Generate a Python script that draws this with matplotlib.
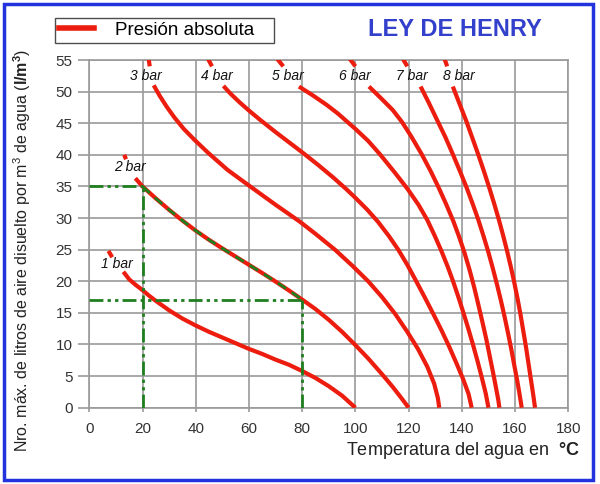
import numpy as np
import matplotlib
matplotlib.use('Agg')
import matplotlib.pyplot as plt
from matplotlib.patches import Rectangle
from matplotlib.lines import Line2D

plt.rcParams['font.family'] = ['Liberation Sans', 'DejaVu Sans']
plt.rcParams['mathtext.fontset'] = 'custom'
plt.rcParams['mathtext.rm'] = 'Liberation Sans'
plt.rcParams['mathtext.it'] = 'Liberation Sans:italic'
plt.rcParams['mathtext.bf'] = 'Liberation Sans:bold'

# curves (temperature degC, litres of air per m3)
# short piece above each label, then the main curve
bar1_top_x = [7.2, 8.6]
bar1_top_y = [24.8, 23.8]
bar1_x = [12.8, 15, 17.5, 20, 22.5, 25, 30, 35, 40, 45, 50, 55, 60, 65, 70, 75, 80, 85, 90, 95, 100]
bar1_y = [21.5, 20.3, 19.4, 18.6, 17.7, 16.9, 15.4, 14.1, 13.0, 12.0, 11.1, 10.2, 9.3, 8.5, 7.6,
          6.8, 5.8, 4.7, 3.4, 1.9, 0]

bar2_top_x = [13.1, 13.8]
bar2_top_y = [40.0, 39.3]
bar2_x = [17.3, 20, 25, 30, 35, 40, 45, 50, 55, 60, 65, 70, 75, 80, 85, 90, 95, 100, 105, 110,
          114, 117.5, 120]
bar2_y = [36.3, 35, 33.1, 31.3, 29.6, 28.0, 26.55, 25.2, 23.9, 22.6, 21.3, 19.95, 18.55, 17.1,
          15.6, 13.9, 12.0, 9.9, 7.7, 5.3, 3.3, 1.4, 0]

bar3_top_x = [22.2, 22.7]
bar3_top_y = [55.5, 54]
bar3_x = [24.2, 26.5, 29.1, 32, 35.5, 39.7, 44.7, 52, 59.8, 70, 79.2, 85, 92.3, 99, 104.8,
          110, 115, 119.5, 123.5, 127, 129.6, 131, 131.5]
bar3_y = [51, 49.3, 47.6, 45.9, 44.1, 42.3, 40.3, 37.6, 35.2, 32.1, 29.4, 27.5, 25, 22.4, 20,
          17.5, 14.8, 12, 9.3, 6.5, 3.8, 1.5, 0]

bar4_top_x = [44.2, 46.1]
bar4_top_y = [55.5, 54]
bar4_x = [50.4, 53, 56.5, 60, 64, 70, 75, 80, 86, 91.7, 96.5, 100, 104.5, 108.5, 112.5, 116.1,
          119.5, 122.6, 126, 129.3, 132.4, 135.3, 138, 140.5, 142.5, 143.7]
bar4_y = [50.9, 49.7, 48.3, 47, 45.6, 43.6, 42.0, 40.4, 38.4, 36.4, 34.6, 33.2, 31.3, 29.4, 27.2,
          25, 22.6, 20.2, 17.5, 14.8, 12.2, 9.6, 7, 4.5, 2.2, 0]

bar5_top_x = [70.0, 72.9]
bar5_top_y = [55.5, 54]
bar5_x = [78.8, 84, 89.2, 93.5, 97, 100, 104.8, 109.2, 114.6, 119.6, 123.7, 127, 129.8, 132.3,
          134.6, 136.7, 138.7, 140.6, 142.5, 144.3, 146, 147.6, 149, 150]
bar5_y = [50.8, 49.4, 47.9, 46.5, 45.2, 44.1, 42.2, 40.1, 37.3, 34.6, 32.1, 29.7, 27.2, 24.8,
          22.4, 20, 17.5, 15, 12.4, 9.8, 7.2, 4.6, 2.2, 0]

bar6_top_x = [97.3, 100]
bar6_top_y = [55.5, 54]
bar6_x = [105.1, 109.5, 114, 117.5, 121, 124.9, 128.3, 131.3, 134.2, 136.8, 139, 141, 142.9,
          144.6, 146.2, 147.7, 149.2, 150.5, 151.8, 152.9, 153.7, 154.1]
bar6_y = [50.8, 49, 47.1, 45.2, 42.9, 40.1, 37.4, 34.8, 32.1, 29.5, 27, 24.5, 21.8,
          19.1, 16.3, 13.6, 10.8, 8.1, 5.4, 3, 1.2, 0]

bar7_top_x = [117.4, 119.5]
bar7_top_y = [55.5, 54]
bar7_x = [124.5, 127.5, 130.7, 133.8, 136.6, 139.3, 141.8, 144.1, 146.2, 148.1, 149.9, 151.6,
          153.2, 154.7, 156.1, 157.4, 158.6, 159.7, 160.8, 161.7, 162.5]
bar7_y = [50.8, 48.3, 45.5, 42.8, 40.1, 37.4, 34.8, 32.2, 29.7, 27.2, 24.7, 22.1,
          19.5, 16.9, 14.3, 11.7, 9.2, 6.7, 4.3, 2.1, 0]

bar8_top_x = [133.2, 134.5]
bar8_top_y = [55.5, 54]
bar8_x = [136.6, 139.2, 141.7, 144, 146.2, 148.3, 150.3, 152.2, 154, 155.6, 157.1, 158.5,
          159.8, 161, 162.1, 163.1, 164.1, 165, 165.9, 166.8, 167.5]
bar8_y = [50.8, 48, 45.3, 42.6, 40, 37.4, 34.8, 32.2, 29.6, 27.1, 24.6, 22.1,
          19.6, 17.1, 14.6, 12.1, 9.6, 7.1, 4.6, 2.1, 0]

curve_labels = ['1 bar', '2 bar', '3 bar', '4 bar', '5 bar', '6 bar', '7 bar', '8 bar']
label_x = [10.3, 15.3, 21.2, 48.1, 74.7, 99.7, 121.4, 138.9]
label_y = [22.8, 38.1, 52.4, 52.4, 52.4, 52.4, 52.4, 52.4]

# worked example: 2 bar, 20 degC -> 35 l/m3, heated to 80 degC -> 17 l/m3
example_t = [20, 80]
example_v = [35, 17]

red = '#ec1c0e'
green = '#1f7f1f'
grid_c = '#9a9a9a'

fig = plt.figure(figsize=(6, 4.84), dpi=100)
ax = fig.add_axes([89.3 / 600, 1 - 407.7 / 484, 479 / 600, 347.7 / 484])

tops = [(bar1_top_x, bar1_top_y), (bar2_top_x, bar2_top_y), (bar3_top_x, bar3_top_y),
        (bar4_top_x, bar4_top_y), (bar5_top_x, bar5_top_y), (bar6_top_x, bar6_top_y),
        (bar7_top_x, bar7_top_y), (bar8_top_x, bar8_top_y)]
mains = [(bar1_x, bar1_y), (bar2_x, bar2_y), (bar3_x, bar3_y), (bar4_x, bar4_y),
         (bar5_x, bar5_y), (bar6_x, bar6_y), (bar7_x, bar7_y), (bar8_x, bar8_y)]

for (tx, ty), (mx, my) in zip(tops, mains):
    ax.plot(tx, ty, color=red, lw=3, solid_capstyle='butt', zorder=3)
    ax.plot(mx, my, color=red, lw=3, solid_capstyle='butt', solid_joinstyle='round', zorder=3)

for lab, lx, ly in zip(curve_labels, label_x, label_y):
    ax.text(lx, ly, lab, fontsize=10, style='italic', ha='center', va='center',
            color='#111111', zorder=4)

# green guide lines
dd = (0, (5, 1.5, 1.2, 1.5, 1.2, 1.5))
ax.hlines(example_v, 0, example_t, color=green, lw=2, linestyles=[dd], zorder=5)
ax.vlines(example_t, 0, example_v, color=green, lw=2, linestyles=[dd], zorder=5)
seg_x = [x for x in bar2_x if example_t[0] <= x <= example_t[1]]
seg_y = [y for x, y in zip(bar2_x, bar2_y) if example_t[0] <= x <= example_t[1]]
ax.plot(seg_x, seg_y, color=green, lw=2, linestyle=(0, (3.5, 2.5)), zorder=5)

ax.set_xlim(0, 180)
ax.set_ylim(0, 55)
ax.set_xticks(np.arange(0, 181, 20))
ax.set_yticks(np.arange(0, 56, 5))
ax.grid(True, color=grid_c, lw=1.2)
ax.set_axisbelow(True)
for s in ax.spines.values():
    s.set_color(grid_c)
    s.set_linewidth(1.2)
ax.tick_params(axis='y', length=8, width=1.2, color=grid_c, pad=4, labelsize=11, labelcolor='#333333')
ax.tick_params(axis='x', length=3, width=1.2, color=grid_c, pad=7, labelsize=11, labelcolor='#333333')

ax.set_xlabel('Temperatura del agua en  $\\mathbf{°C}$', fontsize=13, color='#222222',
              ha='right', va='center')
ax.xaxis.set_label_coords(1.024, -0.122)
ax.set_ylabel('Nro. máx. de litros de aire disuelto por m$^3$ de agua ($\\mathbf{l/m^3}$)',
              fontsize=11.5, color='#222222', va='center')
ax.yaxis.set_label_coords(-0.1405, 0.4536)

handle = Line2D([], [], color=red, lw=4)
leg = fig.legend([handle], ['Presión absoluta   '], loc='upper left',
                 bbox_to_anchor=(55 / 600, 1 - 18 / 484), fontsize=13.5, frameon=True,
                 fancybox=False, edgecolor='#222222', handlelength=1.9, borderpad=0.2,
                 handletextpad=1.1, borderaxespad=0)
leg.get_frame().set_linewidth(1.0)

fig.text(455 / 600, 1 - 30 / 484, 'LEY DE HENRY', fontsize=17, fontweight='bold',
         color='#3340cc', ha='center', va='center')

fig.patches.append(Rectangle((4 / 600, 4 / 484), 589 / 600, 476 / 484, transform=fig.transFigure,
                             fill=False, edgecolor='#2233dd', lw=2.5))

fig.savefig('out.png', dpi=100)
